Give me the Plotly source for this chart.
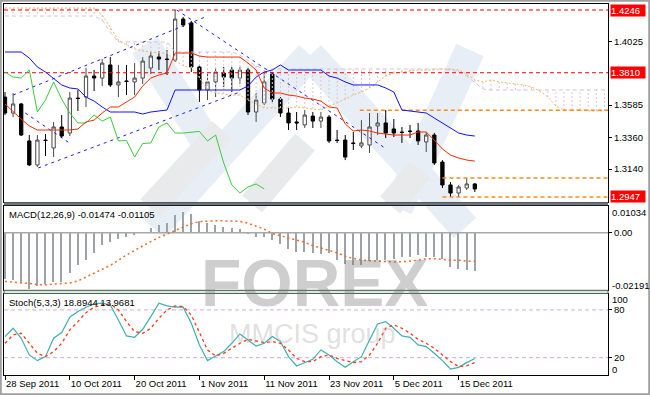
import plotly.graph_objects as go

# ---------------- data ----------------
date_ticks = [0, 8, 16, 24, 32, 40, 48, 56]
date_labels = ["28 Sep 2011", "10 Oct 2011", "20 Oct 2011", "1 Nov 2011",
               "11 Nov 2011", "23 Nov 2011", "5 Dec 2011", "15 Dec 2011"]

opens = [1.3641, 1.3530, 1.3593, 1.3336, 1.3169, 1.3342, 1.3287, 1.3433, 1.3391, 1.3634,
         1.3641, 1.3787, 1.3773, 1.3864, 1.3725, 1.3753, 1.3746, 1.3773, 1.3843, 1.3919,
         1.3905, 1.3898, 1.4183, 1.4156, 1.3850, 1.3690, 1.3746, 1.3808, 1.3829, 1.3773,
         1.3829, 1.3537, 1.3600, 1.3801, 1.3627, 1.3530, 1.3468, 1.3447, 1.3509, 1.3474,
         1.3502, 1.3342, 1.3342, 1.3322, 1.3301, 1.3308, 1.3440, 1.3461, 1.3419, 1.3398,
         1.3405, 1.3405, 1.3329, 1.3377, 1.3189, 1.3030, 1.2974, 1.3009, 1.3037]
highs = [1.3676, 1.3669, 1.3600, 1.3377, 1.3377, 1.3384, 1.3468, 1.3516, 1.3676, 1.3690,
         1.3843, 1.3829, 1.3905, 1.3919, 1.3864, 1.3864, 1.3877, 1.3919, 1.3954, 1.3961,
         1.3968, 1.4246, 1.4197, 1.4170, 1.3864, 1.3808, 1.3850, 1.3850, 1.3850, 1.3850,
         1.3843, 1.3669, 1.3808, 1.3815, 1.3641, 1.3565, 1.3537, 1.3551, 1.3537, 1.3537,
         1.3516, 1.3412, 1.3377, 1.3398, 1.3481, 1.3530, 1.3530, 1.3551, 1.3488, 1.3433,
         1.3447, 1.3461, 1.3398, 1.3391, 1.3203, 1.3050, 1.3030, 1.3078, 1.3044]
lows = [1.3516, 1.3502, 1.3370, 1.3162, 1.3155, 1.3231, 1.3224, 1.3356, 1.3370, 1.3544,
        1.3572, 1.3683, 1.3718, 1.3711, 1.3641, 1.3655, 1.3655, 1.3732, 1.3801, 1.3829,
        1.3794, 1.3884, 1.4128, 1.3815, 1.3607, 1.3620, 1.3641, 1.3711, 1.3676, 1.3732,
        1.3516, 1.3468, 1.3586, 1.3607, 1.3502, 1.3412, 1.3412, 1.3426, 1.3426, 1.3426,
        1.3322, 1.3322, 1.3203, 1.3273, 1.3287, 1.3252, 1.3377, 1.3356, 1.3363, 1.3322,
        1.3356, 1.3308, 1.3259, 1.3169, 1.3009, 1.2946, 1.2946, 1.2995, 1.2981]
closes = [1.3530, 1.3593, 1.3377, 1.3169, 1.3342, 1.3339, 1.3433, 1.3370, 1.3634, 1.3631,
          1.3787, 1.3773, 1.3877, 1.3725, 1.3746, 1.3749, 1.3773, 1.3891, 1.3926, 1.3905,
          1.3902, 1.4183, 1.4142, 1.3850, 1.3690, 1.3746, 1.3815, 1.3780, 1.3773, 1.3829,
          1.3537, 1.3620, 1.3746, 1.3627, 1.3530, 1.3461, 1.3461, 1.3516, 1.3474, 1.3502,
          1.3336, 1.3339, 1.3224, 1.3318, 1.3322, 1.3433, 1.3461, 1.3391, 1.3391, 1.3395,
          1.3402, 1.3336, 1.3377, 1.3183, 1.3030, 1.2974, 1.3016, 1.3037, 1.3002]

tenkan = [1.3593, 1.3537, 1.3488, 1.3440, 1.3412, 1.3412, 1.3412, 1.3412, 1.3412, 1.3419,
          1.3468, 1.3481, 1.3530, 1.3572, 1.3572, 1.3607, 1.3641, 1.3718, 1.3773, 1.3794,
          1.3808, 1.3947, 1.3947, 1.3947, 1.3926, 1.3919, 1.3919, 1.3919, 1.3919, 1.3919,
          1.3877, 1.3829, 1.3704, 1.3669, 1.3669, 1.3655, 1.3648, 1.3634, 1.3627, 1.3613,
          1.3572, 1.3565, 1.3454, 1.3405, 1.3412, 1.3405, 1.3391, 1.3384, 1.3377, 1.3377,
          1.3377, 1.3398, 1.3398, 1.3342, 1.3280, 1.3238, 1.3217, 1.3203, 1.3196]
kijun = [1.3954, 1.3954, 1.3954, 1.3912, 1.3850, 1.3815, 1.3773, 1.3725, 1.3704, 1.3697,
         1.3641, 1.3613, 1.3572, 1.3537, 1.3537, 1.3537, 1.3537, 1.3523, 1.3537, 1.3544,
         1.3551, 1.3690, 1.3690, 1.3690, 1.3690, 1.3690, 1.3690, 1.3690, 1.3690, 1.3690,
         1.3718, 1.3780, 1.3815, 1.3829, 1.3864, 1.3829, 1.3829, 1.3829, 1.3829, 1.3829,
         1.3787, 1.3773, 1.3746, 1.3725, 1.3725, 1.3725, 1.3725, 1.3704, 1.3676, 1.3551,
         1.3544, 1.3537, 1.3530, 1.3495, 1.3461, 1.3426, 1.3391, 1.3377, 1.3370]
chikou = [1.3815, 1.3780, 1.3773, 1.3829, 1.3537, 1.3620, 1.3746, 1.3627, 1.3530, 1.3461,
          1.3461, 1.3516, 1.3474, 1.3502, 1.3336, 1.3339, 1.3224, 1.3318, 1.3322, 1.3433,
          1.3461, 1.3391, 1.3391, 1.3395, 1.3402, 1.3336, 1.3377, 1.3183, 1.3030, 1.2974,
          1.3016, 1.3037, 1.3002]
senkou_a = [1.4260, 1.4260, 1.4260, 1.4260, 1.4260, 1.4260, 1.4260, 1.4260, 1.4260, 1.4260,
            1.4260, 1.4260, 1.4211, 1.4121, 1.4037, 1.4003, 1.3975, 1.3961, 1.3954, 1.3947,
            1.3947, 1.3898, 1.3857, 1.3843, 1.3773, 1.3690, 1.3669, 1.3662, 1.3655, 1.3655,
            1.3620, 1.3593, 1.3565, 1.3565, 1.3565, 1.3565, 1.3572, 1.3565, 1.3558, 1.3551,
            1.3579, 1.3600, 1.3627, 1.3655, 1.3676, 1.3704, 1.3746, 1.3787, 1.3808, 1.3815,
            1.3822, 1.3829, 1.3829, 1.3829, 1.3836, 1.3836, 1.3829, 1.3801, 1.3760, 1.3746,
            1.3760, 1.3746, 1.3739, 1.3732, 1.3725, 1.3711, 1.3683, 1.3641, 1.3579, 1.3551,
            1.3551, 1.3551, 1.3544, 1.3544, 1.3544]
senkou_b = [1.4204, 1.4204, 1.4204, 1.4204, 1.4204, 1.4204, 1.4204, 1.4204, 1.4204, 1.4204,
            1.4204, 1.4204, 1.4177, 1.4093, 1.4024, 1.4024, 1.4024, 1.4024, 1.4024, 1.4024,
            1.4024, 1.3954, 1.3954, 1.3954, 1.3954, 1.3954, 1.3954, 1.3954, 1.3954, 1.3933,
            1.3898, 1.3857, 1.3836, 1.3836, 1.3836, 1.3836, 1.3836, 1.3836, 1.3836, 1.3836,
            1.3836, 1.3836, 1.3836, 1.3836, 1.3836, 1.3836, 1.3836, 1.3836, 1.3836, 1.3836,
            1.3836, 1.3836, 1.3836, 1.3836, 1.3836, 1.3829, 1.3815, 1.3787, 1.3739, 1.3697,
            1.3690, 1.3690, 1.3690, 1.3690, 1.3690, 1.3690, 1.3690, 1.3690, 1.3690, 1.3690,
            1.3690, 1.3690, 1.3690, 1.3690, 1.3690]

# hand-drawn trend lines: (bar, price) end points
trend_x = [[1.0, 24.7], [4.1, 29.0], [21.2, 46.9], [2.5, 7.8]]
trend_y = [[1.3655, 1.4197], [1.3148, 1.3676], [1.4246, 1.3287], [1.3530, 1.3328]]

red_levels = [1.4246, 1.3810]
orange_levels = [1.3550, 1.3078, 1.2947]
orange_level_start = [43.8, 54.0, 54.0]
label_levels = [1.4246, 1.3810, 1.2947]
price_ticks = [1.4025, 1.3585, 1.3360, 1.3140]
price_tick_text = ["1.4025", "1.3585", "1.3360", "1.3140"]

macd_hist = [-0.0180, -0.0184, -0.0191, -0.0219, -0.0207, -0.0196, -0.0191, -0.0191, -0.0157, -0.0126,
             -0.0106, -0.0078, -0.0048, -0.0035, -0.0025, -0.0016, -0.0007, 0.0001, 0.0017, 0.0030,
             0.0036, 0.0068, 0.0081, 0.0072, 0.0046, 0.0036, 0.0030, 0.0023, 0.0017, 0.0013,
             -0.0003, -0.0016, -0.0016, -0.0026, -0.0042, -0.0061, -0.0074, -0.0074, -0.0078, -0.0081,
             -0.0080, -0.0106, -0.0119, -0.0126, -0.0126, -0.0110, -0.0104, -0.0104, -0.0100, -0.0094,
             -0.0094, -0.0087, -0.0094, -0.0094, -0.0100, -0.0132, -0.0140, -0.0145, -0.01474]
macd_signal = [-0.0188, -0.0190, -0.0192, -0.0196, -0.0200, -0.0201, -0.0198, -0.0196, -0.0194, -0.0186,
               -0.0172, -0.0157, -0.0141, -0.0126, -0.0105, -0.0086, -0.0068, -0.0050, -0.0034, -0.0018,
               -0.0004, 0.0010, 0.0023, 0.0035, 0.0043, 0.0045, 0.0046, 0.0046, 0.0046, 0.0044,
               0.0037, 0.0026, 0.0014, -0.0003, -0.0011, -0.0021, -0.0029, -0.0037, -0.0050, -0.0058,
               -0.0068, -0.0077, -0.0091, -0.0099, -0.0105, -0.0108, -0.0110, -0.0113, -0.0113, -0.0112,
               -0.0110, -0.0106, -0.0101, -0.0100, -0.0103, -0.0106, -0.0106, -0.0110, -0.01105]
macd_max, macd_min = 0.01034, -0.02191

stoch_k = [46.5, 57.0, 44.4, 23.4, 16.3, 21.3, 44.4, 51.5, 70.8, 77.9,
           83.4, 87.5, 88.4, 86.3, 67.4, 47.3, 45.6, 55.7, 71.6, 88.4,
           85.0, 83.4, 83.4, 63.3, 36.0, 16.3, 22.1, 27.6, 38.1, 49.8,
           42.3, 34.7, 38.1, 46.5, 40.2, 21.3, 9.6, 13.8, 17.9, 29.7,
           23.4, 15.0, 7.9, 15.0, 21.3, 42.3, 62.4, 65.3, 57.0, 47.3,
           45.6, 36.0, 33.9, 25.5, 16.3, 5.8, 7.9, 13.8, 18.8944]
stoch_d = [38.1, 48.6, 50.7, 38.1, 25.5, 21.3, 27.6, 38.1, 54.9, 65.3,
           76.6, 83.4, 86.3, 87.5, 80.0, 65.3, 52.8, 50.7, 57.0, 69.5,
           80.0, 85.0, 84.2, 73.7, 50.7, 29.7, 22.1, 25.5, 31.8, 38.1,
           43.1, 41.4, 38.9, 40.2, 38.1, 29.7, 19.2, 15.0, 15.0, 21.3,
           23.4, 19.2, 16.3, 13.8, 15.0, 23.4, 38.1, 57.0, 61.2, 57.0,
           50.7, 43.1, 38.1, 31.8, 23.4, 15.0, 8.8, 9.6, 13.9681]
stoch_levels = [80, 20]

# ---------------- geometry helpers (decoration only) ----------------
W, H = 650, 395
ML, MR, MT, MB = 4, 42, 4, 20
PW, PH = W - ML - MR, H - MT - MB


def px(x):
    return (x - ML) / PW


def py(y):
    return (H - MB - y) / PH


X_RANGE = [-0.123, 74.44]
FONT = "Liberation Sans, Arial, sans-serif"

bars = list(range(len(opens)))
cloud_bars = list(range(len(senkou_a)))
chikou_bars = list(range(len(chikou)))

fig = go.Figure()

# ---- Ichimoku cloud hatch ----
hx, hy = [], []
for i, a, b in zip(cloud_bars, senkou_a, senkou_b):
    hx += [i, i, None]
    hy += [a, b, None]
fig.add_trace(go.Scatter(x=hx, y=hy, mode="lines", line=dict(color="#d6c6dc", width=1, dash="2px,2px"),
                         xaxis="x", yaxis="y", hoverinfo="skip"))
fig.add_trace(go.Scatter(x=cloud_bars, y=senkou_b, mode="lines",
                         line=dict(color="#d8bfd8", width=1, dash="4px,3px"), xaxis="x", yaxis="y"))
fig.add_trace(go.Scatter(x=cloud_bars, y=senkou_a, mode="lines",
                         line=dict(color="#f4b460", width=1, dash="2px,2px"), xaxis="x", yaxis="y"))

# ---- horizontal levels ----
for lv in red_levels:
    fig.add_trace(go.Scatter(x=X_RANGE, y=[lv, lv], mode="lines",
                             line=dict(color="#ff0000", width=1, dash="4px,3px"), xaxis="x", yaxis="y"))
for lv, st in zip(orange_levels, orange_level_start):
    fig.add_trace(go.Scatter(x=[st, X_RANGE[1]], y=[lv, lv], mode="lines",
                             line=dict(color="#ff8c1a", width=1.5, dash="4px,3px"), xaxis="x", yaxis="y"))

# ---- trend lines ----
for tx, ty in zip(trend_x, trend_y):
    fig.add_trace(go.Scatter(x=tx, y=ty, mode="lines",
                             line=dict(color="#2020e0", width=1, dash="3px,4px"), xaxis="x", yaxis="y"))

# ---- Ichimoku lines ----
fig.add_trace(go.Scatter(x=chikou_bars, y=chikou, mode="lines",
                         line=dict(color="#3ccc3c", width=1), xaxis="x", yaxis="y"))
fig.add_trace(go.Scatter(x=bars, y=kijun, mode="lines",
                         line=dict(color="#1010ff", width=1), xaxis="x", yaxis="y"))
fig.add_trace(go.Scatter(x=bars, y=tenkan, mode="lines",
                         line=dict(color="#ff2a00", width=1), xaxis="x", yaxis="y"))

# ---- candles ----
fig.add_trace(go.Candlestick(
    x=bars, open=opens, high=highs, low=lows, close=closes,
    increasing=dict(line=dict(color="#4a4a4a", width=1), fillcolor="white"),
    decreasing=dict(line=dict(color="black", width=1), fillcolor="black"),
    whiskerwidth=0, xaxis="x", yaxis="y"))

# ---- MACD ----
fig.add_trace(go.Scatter(x=X_RANGE, y=[0, 0], mode="lines", line=dict(color="#a8a8a8", width=1.5),
                         xaxis="x2", yaxis="y2"))
fig.add_trace(go.Bar(x=bars, y=macd_hist, width=0.18, marker=dict(color="#9ca2aa", line=dict(width=0)),
                     xaxis="x2", yaxis="y2"))
fig.add_trace(go.Scatter(x=bars, y=macd_signal, mode="lines",
                         line=dict(color="#f06a28", width=1.5, dash="2px,3px"), xaxis="x2", yaxis="y2"))

# ---- Stochastic ----
for lv in stoch_levels:
    fig.add_trace(go.Scatter(x=X_RANGE, y=[lv, lv], mode="lines",
                             line=dict(color="#d2acd8", width=1, dash="4px,3px"), xaxis="x3", yaxis="y3"))
fig.add_trace(go.Scatter(x=bars, y=stoch_k, mode="lines", line=dict(color="#3fb0b0", width=1.2),
                         xaxis="x3", yaxis="y3"))
fig.add_trace(go.Scatter(x=bars, y=stoch_d, mode="lines",
                         line=dict(color="#ff3a1a", width=1.3, dash="3px,3px"), xaxis="x3", yaxis="y3"))

# ---------------- layout ----------------
axis_common = dict(showgrid=False, zeroline=False, showline=True, linecolor="black", linewidth=1,
                   mirror=True)
tickfont = dict(family=FONT, size=9.5, color="black")

fig.update_layout(
    width=W, height=H, margin=dict(l=ML, r=MR, t=MT, b=MB),
    paper_bgcolor="white", plot_bgcolor="rgba(0,0,0,0)",
    showlegend=False, boxgap=0.42, bargap=0,
    font=dict(family=FONT, size=9.5, color="black"),
    xaxis=dict(domain=[0, 1], anchor="y", range=X_RANGE, showticklabels=False, ticks="",
               rangeslider=dict(visible=False), **axis_common),
    xaxis2=dict(domain=[0, 1], anchor="y2", range=X_RANGE, showticklabels=False, ticks="", **axis_common),
    xaxis3=dict(domain=[0, 1], anchor="y3", range=X_RANGE, tickvals=date_ticks, ticktext=date_labels,
                ticks="outside", ticklen=4, tickcolor="black", ticklabelposition="outside right",
                tickfont=tickfont, **axis_common),
    yaxis=dict(domain=[py(202), 1.0], anchor="x", side="right", range=[1.29116, 1.42877],
               tickvals=price_ticks, ticktext=price_tick_text, ticks="outside", ticklen=3,
               tickcolor="black", tickfont=tickfont, **axis_common),
    yaxis2=dict(domain=[py(289.5), py(206)], anchor="x2", side="right", range=[macd_min, macd_max],
                tickvals=[0], ticktext=["0.00"], ticks="outside", ticklen=3, tickcolor="black",
                tickfont=tickfont, **axis_common),
    yaxis3=dict(domain=[0, py(294)], anchor="x3", side="right", range=[-1.76, 100],
                tickvals=stoch_levels, ticktext=[str(v) for v in stoch_levels], ticks="outside", ticklen=3,
                tickcolor="black", tickfont=tickfont, **axis_common),
)

# ---------------- decorations ----------------
shapes = []
# watermark logo bands
blue_bands = [((145, 45), (205, 140)), ((153, 228), (310, 55)), ((310, 55), (465, 228)),
              ((398, 208), (470, 50))]
gray_bands = [((150, 208), (222, 130)), ((252, 204), (305, 142)), ((390, 205), (420, 170))]
for (x0, y0), (x1, y1) in blue_bands:
    shapes.append(dict(type="line", xref="paper", yref="paper", x0=px(x0), y0=py(y0), x1=px(x1), y1=py(y1),
                       line=dict(color="#e7eef6", width=30), layer="below"))
for (x0, y0), (x1, y1) in gray_bands:
    shapes.append(dict(type="line", xref="paper", yref="paper", x0=px(x0), y0=py(y0), x1=px(x1), y1=py(y1),
                       line=dict(color="#e9eaec", width=26), layer="below"))
# panel separators
shapes.append(dict(type="rect", xref="paper", yref="paper", x0=px(4), x1=px(608), y0=py(205.3), y1=py(202.3),
                   fillcolor="#6b7680", line=dict(width=0), layer="above"))
shapes.append(dict(type="rect", xref="paper", yref="paper", x0=px(4), x1=px(608), y0=py(293.5), y1=py(290.3),
                   fillcolor="#dfe6df", line=dict(color="#4a6858", width=1), layer="above"))
# outer window frame
shapes.append(dict(type="rect", xref="paper", yref="paper", x0=px(0.8), x1=px(649.2), y0=py(394.2), y1=py(0.8),
                   fillcolor="rgba(0,0,0,0)", line=dict(color="#a0a0a0", width=2), layer="above"))
fig.update_layout(shapes=shapes)

ann = []
# watermark text
ann.append(dict(text="<b>FOREX</b>", xref="paper", yref="paper", x=px(314), y=py(322), showarrow=False,
                font=dict(family=FONT, size=66, color="rgba(120,120,120,0.36)")))
ann.append(dict(text="MMCIS group", xref="paper", yref="paper", x=px(312), y=py(351), showarrow=False,
                font=dict(family=FONT, size=27, color="rgba(150,150,150,0.3)")))
# level labels
for lv in label_levels:
    ann.append(dict(text=f"{lv:.4f}", xref="paper", yref="y", x=px(609.5), y=lv, xanchor="left",
                    yanchor="middle", showarrow=False, bgcolor="#ff0000", width=34, height=11, align="left",
                    borderpad=0, font=dict(family=FONT, size=9.5, color="white")))
# sub-window edge labels
ann.append(dict(text=f"{macd_max:.5f}", xref="paper", yref="y2", x=px(610), y=macd_max, yshift=-7,
                xanchor="left", showarrow=False, font=tickfont))
ann.append(dict(text=f"{macd_min:.5f}", xref="paper", yref="y2", x=px(610), y=macd_min, yshift=4,
                xanchor="left", showarrow=False, font=tickfont))
ann.append(dict(text="100", xref="paper", yref="y3", x=px(610), y=100, yshift=-5,
                xanchor="left", showarrow=False, font=tickfont))
ann.append(dict(text="0", xref="paper", yref="y3", x=px(610), y=0, yshift=4,
                xanchor="left", showarrow=False, font=tickfont))
# indicator titles
ann.append(dict(text=f"MACD(12,26,9) {macd_hist[-1]:.5f} {macd_signal[-1]:.5f}", xref="paper", yref="paper",
                x=px(7), y=py(214), xanchor="left", yanchor="middle", showarrow=False, font=tickfont))
ann.append(dict(text=f"Stoch(5,3,3) {stoch_k[-1]:.4f} {stoch_d[-1]:.4f}", xref="paper", yref="paper",
                x=px(7), y=py(302), xanchor="left", yanchor="middle", showarrow=False, font=tickfont))
fig.update_layout(annotations=ann)

fig.write_html("out.html", config={"displayModeBar": False},
               post_script="document.body.style.margin='0px';document.body.style.overflow='hidden';")
